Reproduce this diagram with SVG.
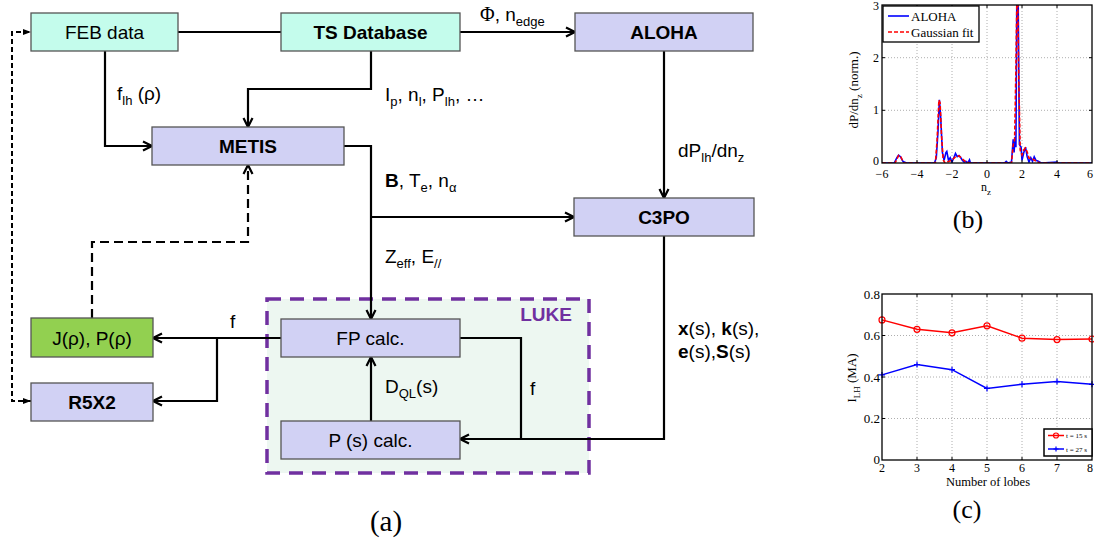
<svg xmlns="http://www.w3.org/2000/svg" width="1094" height="542" viewBox="0 0 1094 542">
<style>
.box{stroke:#555;stroke-width:1.3}
.cy{fill:#c4fcec}
.pu{fill:#d1d1f4}
.gr{fill:#92d050}
.t{font-family:"Liberation Sans",Arial,sans-serif;font-size:19px;fill:#000;text-anchor:middle}
.b{font-weight:bold}
.l{font-family:"Liberation Sans",Arial,sans-serif;font-size:19px;fill:#000}
.c{fill:none;stroke:#000;stroke-width:2.2}
.d1{fill:none;stroke:#000;stroke-width:2.2;stroke-dasharray:9 5}
.d2{fill:none;stroke:#000;stroke-width:2;stroke-dasharray:5 3}
.ser{font-family:"Liberation Serif","Times New Roman",serif;fill:#000}
.grid{stroke:#999;stroke-width:0.8;stroke-dasharray:1 2}
.ax{fill:none;stroke:#000;stroke-width:1.3}
</style>
<defs>
<marker id="arr" viewBox="0 0 12 12" refX="11" refY="6" markerWidth="12" markerHeight="12" markerUnits="userSpaceOnUse" orient="auto">
<path d="M2,1.5 L11,6 L2,10.5" fill="none" stroke="#000" stroke-width="2.2"/>
</marker>
<marker id="sm" viewBox="0 0 8 8" refX="8" refY="4" markerWidth="8" markerHeight="8" markerUnits="userSpaceOnUse" orient="auto-start-reverse">
<path d="M0,1 L8,4 L0,7 Z" fill="#000"/>
</marker>
<clipPath id="clipb"><rect x="882" y="5" width="210" height="158"/></clipPath>
</defs>

<!-- LUKE container -->
<g id="luke">
<rect x="267" y="299" width="322" height="174" fill="#edf7f1" stroke="#7030a0" stroke-width="3.5" stroke-dasharray="14 9"/>
<text x="572" y="321" class="l b" style="fill:#7030a0;font-size:19px;text-anchor:end">LUKE</text>
</g>

<!-- connectors -->
<g id="connectors">
<path class="c" d="M178,32 H281"/>
<path class="c" d="M460,32 H575" marker-end="url(#arr)"/>
<path class="c" d="M371,51 V89 H248 V127" marker-end="url(#arr)"/>
<path class="c" d="M105,51 V146 H152" marker-end="url(#arr)"/>
<path class="c" d="M344,146 H371 V319" marker-end="url(#arr)"/>
<path class="c" d="M371,217 H574" marker-end="url(#arr)"/>
<path class="c" d="M664,51 V198" marker-end="url(#arr)"/>
<path class="c" d="M664,236 V439 H460" marker-end="url(#arr)"/>
<path class="c" d="M460,338 H521 V439"/>
<path class="c" d="M371,421 V357" marker-end="url(#arr)"/>
<path class="c" d="M281,338 H153" marker-end="url(#arr)"/>
<path class="c" d="M217,338 V401 H153" marker-end="url(#arr)"/>
<path class="d1" d="M92,318 V242 H248 V165" marker-end="url(#arr)"/>
<path class="d2" d="M31,401 H12 V32 H31" marker-start="url(#sm)" marker-end="url(#sm)"/>
</g>

<!-- nodes -->
<g id="feb"><rect class="box cy" x="31" y="13" width="147" height="38"/><text class="t" x="104.5" y="39">FEB data</text></g>
<g id="tsdb"><rect class="box cy" x="281" y="13" width="179" height="38"/><text class="t b" x="370.5" y="39">TS Database</text></g>
<g id="aloha"><rect class="box pu" x="575" y="13" width="178" height="38"/><text class="t b" x="664" y="39">ALOHA</text></g>
<g id="metis"><rect class="box pu" x="152" y="127" width="192" height="38"/><text class="t b" x="248" y="153">METIS</text></g>
<g id="c3po"><rect class="box pu" x="574" y="198" width="180" height="38"/><text class="t b" x="664" y="224">C3PO</text></g>
<g id="jp"><rect class="box gr" x="31" y="318" width="122" height="39"/><text class="t" x="92" y="345">J(ρ), P(ρ)</text></g>
<g id="r5x2"><rect class="box pu" x="31" y="383" width="122" height="38"/><text class="t b" x="92" y="409">R5X2</text></g>
<g id="fp"><rect class="box pu" x="281" y="319" width="179" height="38"/><text class="t" x="370.5" y="345">FP calc.</text></g>
<g id="ps"><rect class="box pu" x="281" y="421" width="179" height="38"/><text class="t" x="370.5" y="447">P (s) calc.</text></g>

<!-- labels -->
<g id="labels">
<text class="l" x="480" y="21"><tspan class="ser" style="font-size:20px">Φ</tspan>, n<tspan font-size="13" dy="5">edge</tspan></text>
<text class="l" x="117" y="100">f<tspan font-size="13" dy="5">lh</tspan><tspan dy="-5"> (ρ)</tspan></text>
<text class="l" x="385" y="101">I<tspan font-size="13" dy="5">p</tspan><tspan dy="-5">, n</tspan><tspan font-size="13" dy="5">l</tspan><tspan dy="-5">, P</tspan><tspan font-size="13" dy="5">lh</tspan><tspan dy="-5">, …</tspan></text>
<text class="l" x="385" y="187"><tspan font-weight="bold">B</tspan>, T<tspan font-size="13" dy="5">e</tspan><tspan dy="-5">, n</tspan><tspan font-size="13" dy="5">α</tspan></text>
<text class="l" x="385" y="263">Z<tspan font-size="13" dy="5">eff</tspan><tspan dy="-5">, E</tspan><tspan font-size="13" dy="5">//</tspan></text>
<text class="l" x="678" y="157">dP<tspan font-size="13" dy="5">lh</tspan><tspan dy="-5">/dn</tspan><tspan font-size="13" dy="5">z</tspan></text>
<text class="l" x="678" y="335"><tspan font-weight="bold">x</tspan>(s), <tspan font-weight="bold">k</tspan>(s),</text>
<text class="l" x="678" y="358"><tspan font-weight="bold">e</tspan>(s),<tspan font-weight="bold">S</tspan>(s)</text>
<text class="l" x="230" y="328">f</text>
<text class="l" x="385" y="393">D<tspan font-size="13" dy="5">QL</tspan><tspan dy="-5">(s)</tspan></text>
<text class="l" x="530" y="395">f</text>
<text class="ser" x="386" y="531" font-size="29" text-anchor="middle">(a)</text>
</g>

<!-- plot (b) -->
<g id="plot-b">
<rect x="882" y="5" width="210" height="158" fill="#fff"/>
<g class="grid">
<line x1="917" y1="5" x2="917" y2="163"/><line x1="952" y1="5" x2="952" y2="163"/><line x1="987" y1="5" x2="987" y2="163"/><line x1="1022" y1="5" x2="1022" y2="163"/><line x1="1057" y1="5" x2="1057" y2="163"/>
<line x1="882" y1="110.3" x2="1092" y2="110.3"/><line x1="882" y1="57.7" x2="1092" y2="57.7"/>
</g>
<g clip-path="url(#clipb)">
<polyline fill="none" stroke="#0000ff" stroke-width="1.6" points="882,163 894.2,163 896.9,157.7 898.6,155.1 900.4,156.7 903,161.4 906.5,163 934.5,163 936.3,157.7 938,131.4 939.4,99.8 940.6,115.6 942.4,152.5 944.1,160.4 945.9,152.5 946.8,151.4 948.5,160.4 950.2,157.7 952,162 953.8,157.7 955.5,153.5 957.2,156.7 959,155.6 960.8,157.7 962.5,160.4 964.2,162 966,161.4 967.8,163 969.5,159.8 970.4,163 1004.5,163 1006.2,161.4 1008,163 1011.5,162 1013.2,139.3 1014.1,152.5 1015,136.7 1015.9,147.2 1016.8,4 1018.2,4 1019.4,144.6 1021.1,147.2 1022,160.4 1023.8,152.5 1025.5,147.2 1027.2,156.7 1029,162 1030.8,157.7 1032.5,161.4 1034.2,156.7 1036,160.4 1037.8,161 1041.2,163 1057,162 1057.9,163 1092,163"/>
<polyline fill="none" stroke="#ff0000" stroke-width="1.6" stroke-dasharray="4 2" points="882,163 895.1,163 896.9,159 898.6,155.5 900.4,156 902.1,159.5 903.9,163 935.4,163 937.1,140 938.9,100 940.1,103 941.5,135 943.2,160 945,163 952,160 955.5,157 959,156 962.5,159 966,162 969.5,163 1011.5,163 1013.2,145 1014.6,140 1015.9,70 1016.8,4 1017.8,4 1018.8,80 1020.2,150 1022,155 1023.8,150 1025.5,148 1027.2,152 1029,158 1032.5,159 1036,161 1039.5,163 1092,163"/>
</g>
<rect class="ax" x="882" y="5" width="210" height="158"/>
<g stroke="#000" stroke-width="1">
<line x1="917" y1="163" x2="917" y2="160"/><line x1="952" y1="163" x2="952" y2="160"/><line x1="987" y1="163" x2="987" y2="160"/><line x1="1022" y1="163" x2="1022" y2="160"/><line x1="1057" y1="163" x2="1057" y2="160"/>
<line x1="917" y1="5" x2="917" y2="8"/><line x1="952" y1="5" x2="952" y2="8"/><line x1="987" y1="5" x2="987" y2="8"/><line x1="1022" y1="5" x2="1022" y2="8"/><line x1="1057" y1="5" x2="1057" y2="8"/>
<line x1="882" y1="110.3" x2="885" y2="110.3"/><line x1="882" y1="57.7" x2="885" y2="57.7"/>
<line x1="1092" y1="110.3" x2="1089" y2="110.3"/><line x1="1092" y1="57.7" x2="1089" y2="57.7"/>
</g>
<rect x="883" y="6" width="96" height="36" fill="#fff" stroke="#000" stroke-width="1.3"/>
<line x1="888" y1="16" x2="909" y2="16" stroke="#0000ff" stroke-width="1.6"/>
<text class="ser" x="911" y="21" font-size="13">ALOHA</text>
<line x1="888" y1="32" x2="909" y2="32" stroke="#ff0000" stroke-width="1.6" stroke-dasharray="4 2"/>
<text class="ser" x="911" y="37" font-size="13">Gaussian fit</text>
<g class="ser" font-size="12" text-anchor="middle">
<text x="882" y="178">−6</text><text x="917" y="178">−4</text><text x="952" y="178">−2</text><text x="987" y="178">0</text><text x="1022" y="178">2</text><text x="1057" y="178">4</text><text x="1090" y="178">6</text>
</g>
<g class="ser" font-size="12" text-anchor="end">
<text x="879" y="10">3</text><text x="879" y="62">2</text><text x="879" y="114">1</text><text x="879" y="165">0</text>
</g>
<text class="ser" x="981" y="191" font-size="12">n<tspan font-size="9" dy="4">z</tspan></text>
<text class="ser" font-size="13" text-anchor="middle" transform="translate(858,90) rotate(-90)">dP/dn<tspan font-size="9" dy="4">z</tspan><tspan dy="-4"> (norm.)</tspan></text>
<text class="ser" x="968" y="228" font-size="26" text-anchor="middle">(b)</text>
</g>

<!-- plot (c) -->
<g id="plot-c">
<g class="grid">
<line x1="917" y1="294" x2="917" y2="460"/><line x1="952" y1="294" x2="952" y2="460"/><line x1="987" y1="294" x2="987" y2="460"/><line x1="1022" y1="294" x2="1022" y2="460"/><line x1="1057" y1="294" x2="1057" y2="460"/>
<line x1="882" y1="418.5" x2="1092" y2="418.5"/><line x1="882" y1="377" x2="1092" y2="377"/><line x1="882" y1="335.5" x2="1092" y2="335.5"/>
</g>
<polyline fill="none" stroke="#ff0000" stroke-width="1.5" points="882,319.9 917,329.3 952,332.8 987,325.8 1022,338.2 1057,339.6 1092,339"/>
<g fill="none" stroke="#ff0000" stroke-width="1.2">
<circle cx="882" cy="319.9" r="3"/><circle cx="917" cy="329.3" r="3"/><circle cx="952" cy="332.8" r="3"/><circle cx="987" cy="325.8" r="3"/><circle cx="1022" cy="338.2" r="3"/><circle cx="1057" cy="339.6" r="3"/><circle cx="1092" cy="339" r="3"/>
</g>
<polyline fill="none" stroke="#0000ff" stroke-width="1.5" points="882,374.9 917,364.5 952,369.7 987,388.4 1022,384.3 1057,381.6 1092,384.3"/>
<path fill="none" stroke="#0000ff" stroke-width="1.2" d="M882,371.9v6M879,374.9h6M917,361.5v6M914,364.5h6M952,366.7v6M949,369.7h6M987,385.4v6M984,388.4h6M1022,381.3v6M1019,384.3h6M1057,378.6v6M1054,381.6h6M1092,381.3v6M1089,384.3h6"/>
<rect class="ax" x="882" y="294" width="210" height="166"/>
<g stroke="#000" stroke-width="1">
<line x1="917" y1="460" x2="917" y2="457"/><line x1="952" y1="460" x2="952" y2="457"/><line x1="987" y1="460" x2="987" y2="457"/><line x1="1022" y1="460" x2="1022" y2="457"/><line x1="1057" y1="460" x2="1057" y2="457"/>
<line x1="917" y1="294" x2="917" y2="297"/><line x1="952" y1="294" x2="952" y2="297"/><line x1="987" y1="294" x2="987" y2="297"/><line x1="1022" y1="294" x2="1022" y2="297"/><line x1="1057" y1="294" x2="1057" y2="297"/>
<line x1="882" y1="418.5" x2="885" y2="418.5"/><line x1="882" y1="377" x2="885" y2="377"/><line x1="882" y1="335.5" x2="885" y2="335.5"/>
</g>
<rect x="1044" y="429" width="48" height="27" fill="#fff" stroke="#000" stroke-width="1.5"/>
<line x1="1048" y1="435.5" x2="1064" y2="435.5" stroke="#ff0000" stroke-width="1.5"/>
<circle cx="1056" cy="435.5" r="2.5" fill="none" stroke="#ff0000" stroke-width="1.2"/>
<text class="ser" x="1066" y="438" font-size="7">t = 15 s</text>
<line x1="1048" y1="449" x2="1064" y2="449" stroke="#0000ff" stroke-width="1.5"/>
<path d="M1056,446.5v5M1053.5,449h5" stroke="#0000ff" stroke-width="1.2"/>
<text class="ser" x="1066" y="451.5" font-size="7">t = 27 s</text>
<g class="ser" font-size="12" text-anchor="middle">
<text x="882" y="472">2</text><text x="917" y="472">3</text><text x="952" y="472">4</text><text x="987" y="472">5</text><text x="1022" y="472">6</text><text x="1057" y="472">7</text><text x="1090" y="472">8</text>
</g>
<g class="ser" font-size="13" text-anchor="end">
<text x="880" y="299">0.8</text><text x="880" y="340">0.6</text><text x="880" y="381.5">0.4</text><text x="880" y="423">0.2</text><text x="880" y="464">0</text>
</g>
<text class="ser" x="988" y="486" font-size="12.5" text-anchor="middle">Number of lobes</text>
<text class="ser" font-size="13" text-anchor="middle" transform="translate(856,378) rotate(-90)">I<tspan font-size="9" dy="4">LH</tspan><tspan dy="-4"> (MA)</tspan></text>
<text class="ser" x="967" y="518" font-size="26" text-anchor="middle">(c)</text>
</g>
</svg>
